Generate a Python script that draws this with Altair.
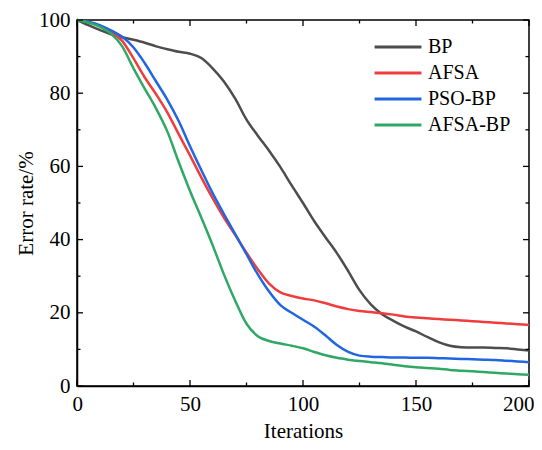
import altair as alt
import pandas as pd

iterations = list(range(0, 201, 5))
series_names = ["BP", "AFSA", "PSO-BP", "AFSA-BP"]
colors = ["#4d4d4d", "#f03c3c", "#1f66e0", "#2fa866"]

bp = [100, 98.6, 97.3, 96.1, 95.3, 94.6, 93.8, 92.8, 92.0, 91.3, 90.8, 89.6, 86.8, 83.2, 78.5,
      72.8, 68.4, 64.3, 59.8, 54.8, 50.0, 45.0, 40.6, 36.3, 31.4, 26.2, 22.3, 19.6, 17.8, 16.2,
      14.9, 13.4, 12.0, 11.0, 10.6, 10.5, 10.5, 10.4, 10.3, 10.0, 9.7]
afsa = [100, 99.4, 98.4, 96.8, 94.3, 89.5, 84.3, 79.7, 74.7, 68.8, 63.0, 57.0, 51.3, 46.0, 41.3,
        36.4, 31.9, 28.0, 25.6, 24.6, 23.9, 23.4, 22.6, 21.7, 21.0, 20.5, 20.2, 19.9, 19.5, 19.0,
        18.7, 18.5, 18.3, 18.1, 17.9, 17.7, 17.5, 17.3, 17.1, 16.9, 16.7]
pso_bp = [100, 99.5, 98.6, 97.2, 95.4, 92.5, 88.2, 83.2, 78.2, 72.4, 65.5, 59.0, 52.7, 47.0, 41.5,
          36.0, 30.5, 25.8, 22.1, 20.0, 18.1, 16.2, 13.8, 11.2, 9.3, 8.3, 8.0, 7.9, 7.8, 7.8,
          7.7, 7.7, 7.6, 7.5, 7.4, 7.3, 7.2, 7.1, 6.9, 6.7, 6.5]
afsa_bp = [100, 99.3, 98.2, 96.3, 92.8, 86.8, 81.2, 75.8, 69.5, 61.2, 53.3, 46.0, 38.5, 30.5, 23.3,
           17.0, 13.6, 12.3, 11.6, 11.0, 10.3, 9.3, 8.4, 7.7, 7.2, 6.8, 6.5, 6.2, 5.8, 5.4,
           5.1, 4.9, 4.7, 4.4, 4.2, 4.0, 3.8, 3.6, 3.4, 3.2, 3.1]

x_major = [0, 50, 100, 150, 200]
x_minor = [25, 75, 125, 175]
y_major = [0, 20, 40, 60, 80, 100]
y_minor = [10, 30, 50, 70, 90]

FONT = "Liberation Serif, Times New Roman, DejaVu Serif, serif"
W, H = 452, 366

rows = []
for name, vals in zip(series_names, [bp, afsa, pso_bp, afsa_bp]):
    for it, v in zip(iterations, vals):
        rows.append({"Iterations": it, "Error": v, "Series": name})
df = pd.DataFrame(rows)

xs = alt.Scale(domain=[0, 200], nice=False, zero=False)
ys = alt.Scale(domain=[0, 100], nice=False, zero=False)

lines = alt.Chart(df).mark_line(strokeWidth=2.5, interpolate="monotone").encode(
    x=alt.X("Iterations:Q", scale=xs, title="Iterations",
            axis=alt.Axis(values=x_major, ticks=False, grid=False, labelPadding=7,
                          labelFlush=True, labelFlushOffset=5, titlePadding=6)),
    y=alt.Y("Error:Q", scale=ys, title="Error rate/%",
            axis=alt.Axis(values=y_major, ticks=False, grid=False, labelPadding=7,
                          labelFlush=False, titlePadding=2)),
    color=alt.Color("Series:N", sort=series_names,
                    scale=alt.Scale(domain=series_names, range=colors),
                    legend=alt.Legend(title=None, orient="none", legendX=311, legendY=17,
                                      symbolType="M-5,0H5", symbolSize=88,
                                      symbolStrokeWidth=3, rowPadding=6, padding=0,
                                      labelFont=FONT, labelFontSize=20,
                                      labelColor="black", labelOffset=20)),
)

def xticks(vals, length):
    d = pd.DataFrame({"t": vals})
    bottom = alt.Chart(d).mark_rule(color="black", strokeWidth=1.3).encode(
        x=alt.X("t:Q", scale=xs), y=alt.value(H), y2=alt.value(H - length))
    top = alt.Chart(d).mark_rule(color="black", strokeWidth=1.3).encode(
        x=alt.X("t:Q", scale=xs), y=alt.value(0), y2=alt.value(length))
    return [bottom, top]

def yticks(vals, length):
    d = pd.DataFrame({"t": vals})
    left = alt.Chart(d).mark_rule(color="black", strokeWidth=1.3).encode(
        y=alt.Y("t:Q", scale=ys), x=alt.value(0), x2=alt.value(length))
    right = alt.Chart(d).mark_rule(color="black", strokeWidth=1.3).encode(
        y=alt.Y("t:Q", scale=ys), x=alt.value(W), x2=alt.value(W - length))
    return [left, right]

layers = [lines] + xticks(x_major, 6) + xticks(x_minor, 3.5) + yticks(y_major, 6) + yticks(y_minor, 3.5)

chart = alt.layer(*layers).properties(
    width=W, height=H,
    autosize=alt.AutoSizeParams(type="none"),
    padding={"left": 69, "top": 12, "right": 5, "bottom": 56},
).configure_view(
    stroke="black", strokeWidth=1.5
).configure_axis(
    domainColor="black", domainWidth=1.5,
    labelFont=FONT, labelFontSize=21, labelColor="black",
    titleFont=FONT, titleFontSize=21, titleFontWeight="normal", titleColor="black",
)

chart.save("out.html", embed_options={"renderer": "svg", "actions": False})
